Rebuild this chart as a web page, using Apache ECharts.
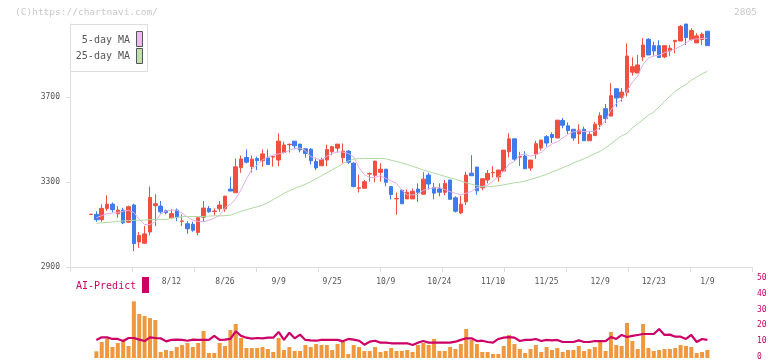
<!DOCTYPE html>
<html><head><meta charset="utf-8">
<script src="https://cdn.jsdelivr.net/npm/echarts@6/dist/echarts.min.js"></script>
<style>html,body{margin:0;padding:0;background:#fff}#c{width:772px;height:361px}</style>
</head><body><div id="c"></div>
<script>
const dates = ['7/18','7/22','7/23','7/24','7/25','7/28','7/29','7/30','7/31','8/1',
'8/4','8/5','8/6','8/7','8/8','8/12','8/13','8/14','8/15','8/18',
'8/19','8/20','8/21','8/22','8/25','8/26','8/27','8/28','8/29','9/1',
'9/2','9/3','9/4','9/5','9/8','9/9','9/10','9/11','9/12','9/16',
'9/17','9/18','9/19','9/22','9/24','9/25','9/26','9/29','9/30','10/1',
'10/2','10/3','10/6','10/7','10/8','10/9','10/10','10/14','10/15','10/16',
'10/17','10/20','10/21','10/22','10/23','10/24','10/27','10/28','10/29','10/30',
'10/31','11/4','11/5','11/6','11/7','11/10','11/11','11/12','11/13','11/14',
'11/17','11/18','11/19','11/20','11/21','11/25','11/26','11/27','11/28','12/1',
'12/2','12/3','12/4','12/5','12/8','12/9','12/10','12/11','12/12','12/15',
'12/16','12/17','12/18','12/19','12/22','12/23','12/24','12/25','12/26','12/29',
'12/30','1/5','1/6','1/7','1/8','1/9'];
const tickLabels = ['8/12','8/26','9/9','9/25','10/9','10/24','11/10','11/25','12/9','12/23','1/9'];
const priceTicks = [2900, 3300, 3700];
const aiTicks = [0, 10, 20, 30, 40, 50];

const open = [3147,3148,3123,3176,3196,3151,3168,3111,3192,3018,
3012,3065,3189,3187,3165,3132,3168,3115,3104,3101,
3063,3135,3176,3162,3174,3174,3267,3250,3368,3416,
3373,3411,3401,3414,3418,3404,3439,3476,3493,3479,
3457,3455,3397,3377,3404,3443,3460,3415,3446,3389,
3271,3271,3338,3332,3346,3361,3279,3221,3262,3221,
3221,3267,3243,3333,3275,3268,3252,3310,3226,3155,
3207,3342,3371,3273,3310,3344,3324,3352,3443,3504,
3418,3423,3366,3432,3461,3514,3524,3508,3590,3565,
3549,3527,3549,3495,3519,3570,3646,3611,3740,3699,
3723,3818,3814,3890,3973,3943,3943,3890,3918,3962,
3965,4045,3972,3956,3972,4011];
const close = [3149,3123,3176,3196,3170,3168,3108,3184,3010,3049,
3056,3228,3198,3160,3156,3151,3135,3117,3080,3073,
3132,3178,3160,3164,3192,3234,3258,3372,3409,3394,
3408,3401,3433,3383,3420,3493,3475,3478,3471,3452,
3435,3401,3367,3406,3454,3467,3479,3446,3394,3279,
3273,3302,3340,3399,3361,3299,3242,3223,3198,3252,
3257,3252,3314,3291,3248,3252,3294,3219,3163,3196,
3333,3330,3259,3316,3341,3346,3357,3451,3504,3408,
3420,3363,3404,3481,3498,3484,3510,3592,3568,3543,
3508,3545,3495,3524,3573,3613,3599,3707,3696,3724,
3894,3844,3852,3946,3899,3918,3887,3943,3931,3968,
4034,3981,4014,3989,3997,3943];
const low = [3146,3113,3113,3165,3157,3132,3102,3108,2975,2990,
3010,3049,3093,3152,3148,3129,3116,3093,3057,3066,
3049,3113,3156,3143,3160,3160,3258,3250,3344,3388,
3345,3357,3373,3383,3373,3375,3439,3439,3454,3440,
3415,3383,3357,3377,3375,3427,3440,3388,3386,3275,
3251,3271,3302,3299,3302,3280,3218,3146,3198,3221,
3221,3207,3243,3265,3219,3233,3238,3219,3157,3149,
3192,3330,3240,3262,3294,3322,3302,3352,3416,3400,
3376,3363,3354,3410,3449,3467,3484,3508,3554,3527,
3495,3480,3495,3495,3519,3547,3578,3611,3654,3679,
3703,3802,3814,3870,3899,3896,3887,3884,3893,3907,
3965,3946,3967,3956,3946,3943];
const high = [3150,3163,3195,3238,3204,3187,3179,3189,3198,3065,
3093,3280,3243,3211,3170,3173,3176,3148,3116,3113,
3132,3211,3187,3176,3211,3234,3325,3411,3425,3454,
3426,3420,3454,3454,3422,3530,3490,3482,3493,3479,
3457,3460,3415,3415,3477,3471,3479,3482,3451,3394,
3335,3310,3346,3399,3389,3361,3279,3251,3263,3265,
3270,3294,3347,3344,3296,3294,3310,3310,3233,3236,
3349,3427,3371,3316,3357,3375,3357,3451,3530,3504,
3443,3446,3404,3495,3498,3521,3535,3592,3602,3581,
3549,3573,3561,3538,3583,3629,3668,3766,3740,3743,
3954,3888,3899,3978,3978,3962,3968,3943,3946,3968,
4040,4045,4025,4001,4005,4011];

const ma5 = [null,3132,3142,3151,3154,3157,3163,3167,3157,3125,
3100,3100,3113,3150,3164,3168,3168,3154,3135,3121,
3115,3113,3120,3130,3143,3180,3196,3220,3265,3315,
3360,3380,3405,3418,3427,3433,3438,3450,3458,3461,
3448,3420,3410,3406,3422,3435,3442,3442,3435,3419,
3368,3335,3322,3322,3330,3318,3305,3294,3262,3239,
3240,3242,3262,3269,3273,3275,3265,3255,3247,3240,
3248,3256,3273,3280,3286,3305,3325,3350,3385,3398,
3427,3432,3422,3430,3440,3462,3480,3490,3508,3525,
3537,3542,3538,3537,3540,3560,3590,3640,3670,3690,
3730,3770,3800,3855,3885,3894,3898,3910,3918,3928,
3940,3955,3972,3975,3977,3978];
const ma25 = [null,3106,3108,3110,3112,3115,3117,3119,3120,3120,
3121,3123,3124,3124,3124,3130,3134,3137,3138,3138,
3138,3138,3140,3141,3141,3142,3144,3153,3162,3170,
3177,3184,3191,3203,3218,3232,3247,3259,3270,3280,
3290,3302,3316,3330,3344,3358,3372,3388,3400,3408,
3411,3411,3411,3411,3411,3410,3403,3397,3390,3383,
3374,3366,3357,3350,3342,3335,3327,3320,3313,3305,
3297,3290,3283,3279,3278,3280,3283,3287,3292,3297,
3300,3305,3312,3320,3328,3336,3348,3357,3368,3378,
3390,3400,3410,3422,3434,3445,3462,3480,3500,3518,
3530,3555,3575,3595,3615,3630,3655,3680,3705,3728,
3745,3760,3780,3795,3810,3822];

const volume = [null,20,48,58,33,45,55,36,170,132,126,
120,114,18,24,21,33,39,45,33,45,
81,15,15,45,36,84,102,60,30,30,
30,33,27,18,60,24,33,21,21,39,
33,42,39,39,24,42,48,12,39,33,
21,21,33,18,21,30,21,21,24,18,
39,45,39,57,21,21,33,27,42,87,
54,42,18,18,12,12,36,69,42,27,
15,27,39,18,33,24,30,18,24,24,
36,21,27,33,48,21,78,39,36,105,
51,27,102,30,21,24,27,27,30,39,
36,33,15,18,24];
const aiPredict = [null,11.3,12.9,12.9,11.9,11.9,10.6,12.5,12.5,11.5,10.6,
12.9,12.5,12.3,10.4,11.3,11.5,11.3,10.8,11.5,11.3,
11.3,11.3,13.8,11.3,11.5,11.9,16.7,13.8,12.7,12.1,
12.5,12.3,12.7,12.7,16.3,11.3,15.8,12.3,14.6,11.3,
11.0,10.8,11.3,11.3,11.3,11.3,10.4,11.9,11.5,10.8,
8.3,10.2,10.8,9.6,9.6,9.2,9.2,9.2,9.2,8.1,
9.6,10.6,9.6,9.6,9.6,9.6,9.6,10.2,11.3,12.3,
12.3,10.6,10.8,10.0,9.6,11.9,12.7,13.1,12.7,10.6,
11.3,11.3,11.9,10.6,11.3,11.0,11.3,10.0,10.0,10.0,
11.0,10.0,10.0,10.6,10.6,10.6,13.1,11.9,14.4,13.1,
13.8,14.4,15.0,15.0,15.0,18.1,14.4,14.6,13.3,13.3,
11.9,14.4,10.0,11.9,11.3];

const FONT = '"DejaVu Sans Mono", "Liberation Mono", monospace';
const RED = '#ef5040', BLUE = '#3e7bec';
const candles = dates.map((d, i) => [open[i], close[i], low[i], high[i]]);
const N = dates.length;
const step = 5.36, firstX = 91;
const bandLeft = firstX - step / 2, bandWidth = step * N;
const yMin = 2900, yMax = 4045;

const chart = echarts.init(document.getElementById('c'), null, {renderer: 'canvas'});
function txt(text, x, y, size, color, align) {
  return {type: 'text', x: x, y: y, z: 100, style: {text: text, font: size + 'px ' + FONT, fill: color,
    align: align, textAlign: align, verticalAlign: 'middle', textVerticalAlign: 'middle'}};
}
chart.setOption({
  animation: false,
  grid: [
    {left: 70, right: 20, top: 24, bottom: 94},
    {left: bandLeft, width: bandWidth, top: 24, bottom: 94},
    {left: 70, right: 20, top: 278, height: 80},
    {left: bandLeft, width: bandWidth, top: 278, height: 80}
  ],
  xAxis: [
    {gridIndex: 0, type: 'value', min: 0, max: 11, interval: 1,
     axisLine: {lineStyle: {color: '#ddd'}}, axisTick: {length: 5, lineStyle: {color: '#ddd'}},
     axisLabel: {show: false}, splitLine: {show: false}},
    {gridIndex: 1, type: 'category', data: dates, boundaryGap: true,
     axisLine: {show: false}, axisTick: {show: false},
     axisLabel: {interval: (i, v) => tickLabels.includes(v), margin: 11, fontSize: 8, color: '#555', fontFamily: FONT}},
    {gridIndex: 2, type: 'value', min: 0, max: 1, show: false},
    {gridIndex: 3, type: 'category', data: dates, boundaryGap: true, show: false}
  ],
  yAxis: [
    {gridIndex: 0, type: 'value', min: yMin, max: yMax,
     axisLine: {show: true, lineStyle: {color: '#ddd'}},
     axisTick: {show: true, length: 4, lineStyle: {color: '#ddd'}, customValues: priceTicks},
     axisLabel: {customValues: priceTicks, formatter: v => String(v), fontSize: 8, color: '#555', margin: 10, fontFamily: FONT},
     splitLine: {show: false}},
    {gridIndex: 1, type: 'value', min: yMin, max: yMax, show: false},
    {gridIndex: 2, type: 'value', position: 'right', min: 0, max: 50,
     axisLine: {show: false}, axisTick: {show: false}, splitLine: {show: false},
     axisLabel: {customValues: aiTicks, formatter: v => String(v), fontSize: 8, color: '#cc0066', margin: 5, fontFamily: FONT}},
    {gridIndex: 3, type: 'value', min: 0, max: 240, show: false},
    {gridIndex: 3, type: 'value', min: 0, max: 50, show: false}
  ],
  series: [
    {type: 'candlestick', xAxisIndex: 1, yAxisIndex: 1, data: candles, barWidth: 4,
     itemStyle: {color: RED, color0: BLUE, borderColor: RED, borderColor0: BLUE, borderWidth: 1}},
    {type: 'line', xAxisIndex: 1, yAxisIndex: 1, data: ma5, showSymbol: false, z: 3,
     lineStyle: {color: '#e4aee4', width: 1}},
    {type: 'line', xAxisIndex: 1, yAxisIndex: 1, data: ma25, showSymbol: false, z: 3,
     lineStyle: {color: '#aed8a0', width: 1}},
    {type: 'bar', xAxisIndex: 3, yAxisIndex: 3, data: volume, barWidth: 4,
     itemStyle: {color: '#f0983e'}},
    {type: 'line', xAxisIndex: 3, yAxisIndex: 4, data: aiPredict, showSymbol: false, z: 5,
     lineStyle: {color: '#cc0066', width: 2.2}}
  ],
  graphic: [
    txt('(C)https://chartnavi.com/', 15, 12.5, 9.5, '#c8c8c8', 'left'),
    txt('2805', 757, 12.5, 9.5, '#c8c8c8', 'right'),
    {type: 'rect', z: 90, shape: {x: 70.5, y: 24.5, width: 77, height: 47},
     style: {fill: '#fff', stroke: '#ddd', lineWidth: 1}},
    txt('5-day MA', 130, 40, 10, '#555', 'right'),
    txt('25-day MA', 130, 56.5, 10, '#555', 'right'),
    {type: 'rect', z: 100, shape: {x: 136.5, y: 31.5, width: 6, height: 15},
     style: {fill: '#eebbee', stroke: '#555', lineWidth: 1}},
    {type: 'rect', z: 100, shape: {x: 136.5, y: 48.5, width: 6, height: 15},
     style: {fill: '#c0e0b0', stroke: '#555', lineWidth: 1}},
    txt('AI-Predict', 76, 286.5, 10, '#cc0066', 'left'),
    {type: 'rect', z: 100, shape: {x: 142, y: 277, width: 7, height: 16},
     style: {fill: '#cc0066'}}
  ]
});
</script></body></html>
